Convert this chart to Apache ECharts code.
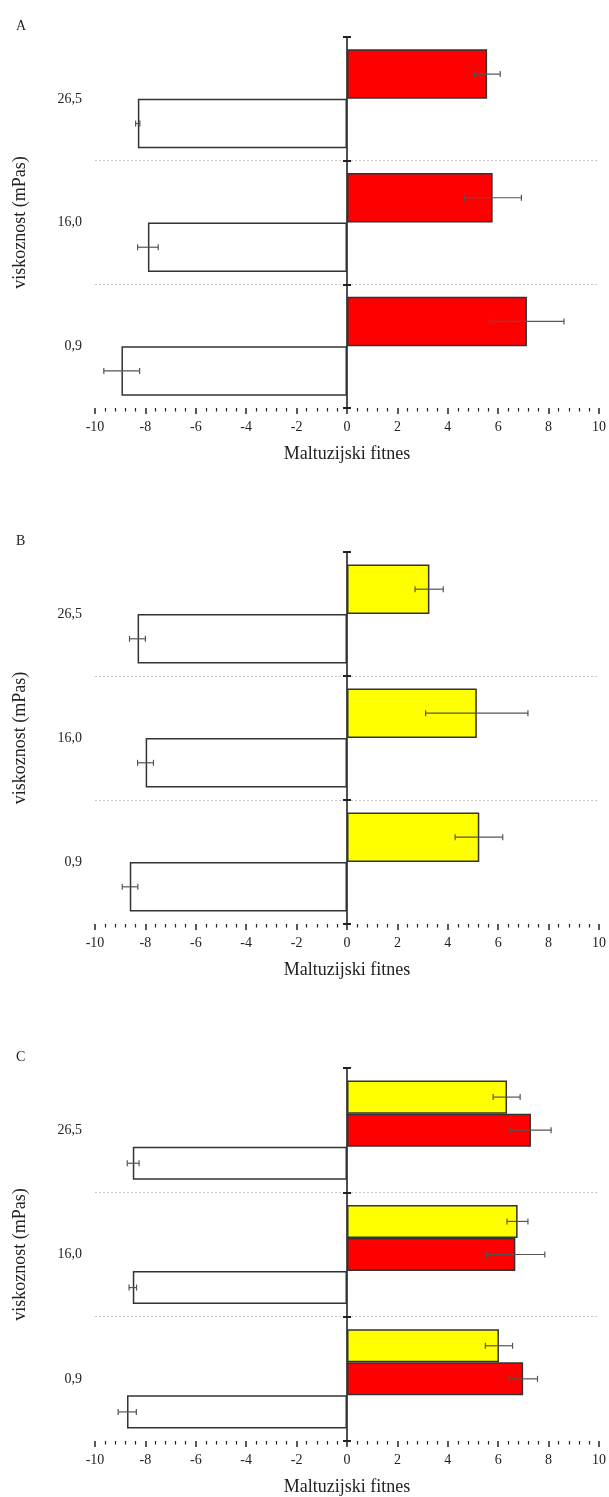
<!DOCTYPE html>
<html>
<head>
<meta charset="utf-8">
<script src="https://cdn.jsdelivr.net/npm/echarts@6/dist/echarts.min.js"></script>
<style>
html,body{margin:0;padding:0;background:#fff;}
#chart{width:609px;height:1497px;}
</style>
</head>
<body>
<div id="chart"></div>
<script>
// ---- data ----
const categories = ['0,9', '16,0', '26,5'];
const panelLabels = ['A', 'B', 'C'];
const xAxisName = 'Maltuzijski fitnes';
const yAxisName = 'viskoznost (mPas)';

// Panel A
const A_white = [-8.95, -7.90, -8.30];
const A_whiteLow = [-9.65, -8.31, -8.39];
const A_whiteHigh = [-8.23, -7.49, -8.22];
const A_red = [7.14, 5.78, 5.56];
const A_redLow = [5.66, 4.66, 5.05];
const A_redHigh = [8.61, 6.92, 6.08];

// Panel B
const B_white = [-8.62, -7.99, -8.31];
const B_whiteLow = [-8.92, -8.31, -8.63];
const B_whiteHigh = [-8.30, -7.68, -8.00];
const B_yellow = [5.25, 5.15, 3.27];
const B_yellowLow = [4.29, 3.12, 2.70];
const B_yellowHigh = [6.18, 7.18, 3.82];

// Panel C
const C_white = [-8.73, -8.50, -8.50];
const C_whiteLow = [-9.08, -8.65, -8.72];
const C_whiteHigh = [-8.36, -8.35, -8.25];
const C_red = [6.99, 6.68, 7.30];
const C_redLow = [6.43, 5.53, 6.50];
const C_redHigh = [7.56, 7.85, 8.10];
const C_yellow = [6.03, 6.77, 6.35];
const C_yellowLow = [5.49, 6.35, 5.80];
const C_yellowHigh = [6.57, 7.18, 6.87];

// ---- styles ----
const FONT = 'Liberation Serif';
const TXT = '#222';
const RED = '#ff0000';
const YELLOW = '#ffff00';
const WHITE = '#ffffff';

const GRID_W = 504;
const grids = [
  {left: 95, width: GRID_W, top: 37, height: 371},
  {left: 95, width: GRID_W, top: 552, height: 372},
  {left: 95, width: GRID_W, top: 1068, height: 373}
];

// panels: list of bar groups, top-most first
const panels = [
  {bars: [
    {name: 'red', color: RED, values: A_red, low: A_redLow, high: A_redHigh},
    {name: 'white', color: WHITE, values: A_white, low: A_whiteLow, high: A_whiteHigh}
  ], pct: 0.40},
  {bars: [
    {name: 'yellow', color: YELLOW, values: B_yellow, low: B_yellowLow, high: B_yellowHigh},
    {name: 'white', color: WHITE, values: B_white, low: B_whiteLow, high: B_whiteHigh}
  ], pct: 0.40},
  {bars: [
    {name: 'yellow', color: YELLOW, values: C_yellow, low: C_yellowLow, high: C_yellowHigh},
    {name: 'red', color: RED, values: C_red, low: C_redLow, high: C_redHigh},
    {name: 'white', color: WHITE, values: C_white, low: C_whiteLow, high: C_whiteHigh}
  ], pct: 0.266}
];

function errRenderer(slot, nSlots, pct) {
  return function (params, api) {
    const idx = api.value(0);
    const lo = api.coord([api.value(1), idx]);
    const hi = api.coord([api.value(2), idx]);
    const band = api.size([0, 1])[1];
    const bw = band * pct;
    const y = lo[1] - bw * nSlots / 2 + bw * slot + bw / 2;
    const cap = 3;
    const st = {stroke: '#555', lineWidth: 1.2};
    return {type: 'group', children: [
      {type: 'line', shape: {x1: lo[0], y1: y, x2: hi[0], y2: y}, style: st},
      {type: 'line', shape: {x1: lo[0], y1: y - cap, x2: lo[0], y2: y + cap}, style: st},
      {type: 'line', shape: {x1: hi[0], y1: y - cap, x2: hi[0], y2: y + cap}, style: st}
    ]};
  };
}

const xAxes = [], yAxes = [], series = [], titles = [];
grids.forEach((g, gi) => {
  titles.push({
    text: panelLabels[gi], left: 11, top: g.top - 23,
    textStyle: {fontFamily: FONT, fontSize: 14, fontWeight: 'normal', color: TXT}
  });
  xAxes.push({
    type: 'value', gridIndex: gi, min: -10, max: 10, interval: 2,
    name: xAxisName, nameLocation: 'middle', nameGap: 37,
    nameTextStyle: {fontFamily: FONT, fontSize: 18, color: TXT},
    axisLine: {onZero: false, lineStyle: {color: '#222', width: 1.8}},
    axisTick: {show: true, length: 6, lineStyle: {color: '#222', width: 1.5}},
    minorTick: {show: true, splitNumber: 5, length: 3.5, lineStyle: {color: '#222', width: 1.2}},
    axisLabel: {fontFamily: FONT, fontSize: 14, color: TXT, margin: 12},
    splitLine: {show: false}
  });
  const base = yAxes.length;
  // label axis at grid left
  yAxes.push({
    type: 'category', gridIndex: gi, data: categories, position: 'left',
    name: yAxisName, nameLocation: 'middle', nameGap: 66,
    nameTextStyle: {fontFamily: FONT, fontSize: 18, color: TXT},
    axisLine: {show: false, onZero: false},
    axisTick: {show: false},
    axisLabel: {fontFamily: FONT, fontSize: 14, color: TXT, margin: 13},
    splitLine: {show: true, showMinLine: false, showMaxLine: false,
      lineStyle: {color: '#c8c8c8', type: [2, 2], width: 1}}
  });
  // zero line axis with outward ticks
  yAxes.push({
    type: 'category', gridIndex: gi, data: categories, position: 'left',
    axisLine: {show: true, onZero: true, lineStyle: {color: '#222', width: 1.6}},
    axisTick: {show: true, length: 4, lineStyle: {color: '#222', width: 2}},
    axisLabel: {show: false},
    splitLine: {show: false}
  });
  // inside ticks on the zero line (moved to the middle of the grid)
  yAxes.push({
    type: 'category', gridIndex: gi, data: categories, position: 'left',
    offset: -GRID_W / 2,
    axisLine: {show: false, onZero: false},
    axisTick: {show: true, inside: true, length: 4, lineStyle: {color: '#222', width: 2}},
    axisLabel: {show: false},
    splitLine: {show: false}
  });

  const p = panels[gi];
  const n = p.bars.length;
  const pctStr = (p.pct * 100) + '%';
  p.bars.forEach((b) => {
    series.push({
      type: 'bar', name: b.name + gi, xAxisIndex: gi, yAxisIndex: base,
      data: b.values, barWidth: pctStr, barGap: '0%',
      itemStyle: {color: b.color, borderColor: '#333', borderWidth: 1.5},
      silent: true, animation: false
    });
  });
  p.bars.forEach((b, bi) => {
    series.push({
      type: 'custom', name: 'err_' + b.name + gi, xAxisIndex: gi, yAxisIndex: base,
      renderItem: errRenderer(bi, n, p.pct),
      data: categories.map((c, ci) => [ci, b.low[ci], b.high[ci]]),
      encode: {x: [1, 2], y: 0},
      z: 5, silent: true, animation: false, clip: false
    });
  });
});

const chart = echarts.init(document.getElementById('chart'), null, {renderer: 'canvas'});
chart.setOption({
  backgroundColor: '#fff',
  animation: false,
  title: titles,
  grid: grids,
  xAxis: xAxes,
  yAxis: yAxes,
  series: series
});
</script>
</body>
</html>
